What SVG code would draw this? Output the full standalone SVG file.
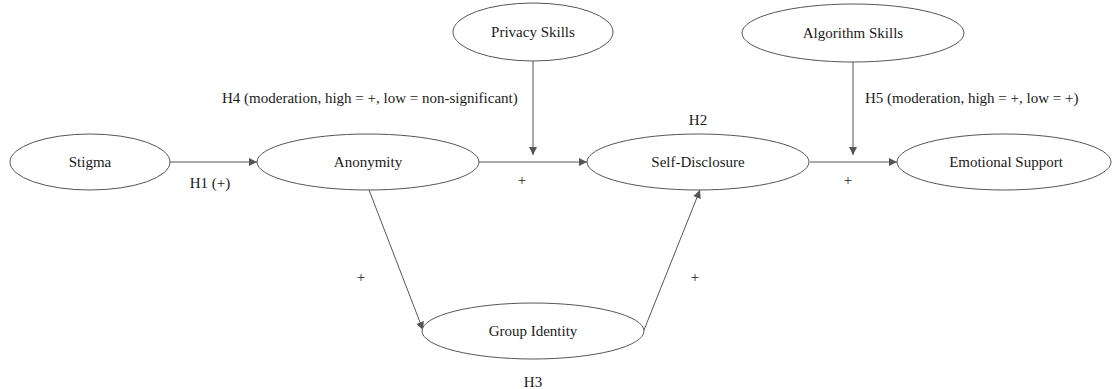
<svg xmlns="http://www.w3.org/2000/svg" width="1112" height="389" viewBox="0 0 1112 389">
<defs>
<style>
.node ellipse{fill:#ffffff;stroke:#555555;stroke-width:1}
text{font-family:'Liberation Serif','Times New Roman',Times,serif;font-size:15px;fill:#1a1a1a;text-anchor:middle}
.edge{stroke:#555555;stroke-width:1;fill:none;marker-end:url(#arr)}
</style>
<marker id="arr" viewBox="0 0 10 10" refX="10" refY="5" markerWidth="10" markerHeight="8" markerUnits="userSpaceOnUse" orient="auto">
<path d="M0,0 L10,5 L0,10 z" fill="#555555"/>
</marker>
</defs>
<rect width="1112" height="389" fill="#ffffff"/>
<g id="connectors" font-family="Liberation Serif, serif">
<line class="edge" x1="170" y1="162" x2="257" y2="162"/>
<line class="edge" x1="479" y1="162" x2="587" y2="162"/>
<line class="edge" x1="810" y1="162" x2="897" y2="162"/>
<line class="edge" x1="533" y1="61" x2="533" y2="155"/>
<line class="edge" x1="853" y1="62" x2="853" y2="155"/>
<line class="edge" x1="369" y1="190" x2="423" y2="330"/>
<line class="edge" x1="644" y1="330" x2="700" y2="190"/>
<text x="210" y="188">H1 (+)</text>
<text x="522" y="185">+</text>
<text x="848" y="185">+</text>
<text x="361" y="282">+</text>
<text x="695" y="282">+</text>
<text x="698" y="125">H2</text>
<text x="533" y="387">H3</text>
<text x="222" y="103" style="text-anchor:start">H4 (moderation, high = +, low = non-significant)</text>
<text x="865" y="103" style="text-anchor:start">H5 (moderation, high = +, low = +)</text>
</g>
<g id="stigma" class="node"><ellipse cx="90" cy="162" rx="80" ry="28"/><text x="90" y="167">Stigma</text></g>
<g id="anonymity" class="node"><ellipse cx="368" cy="162" rx="111" ry="28"/><text x="368" y="167">Anonymity</text></g>
<g id="privacy-skills" class="node"><ellipse cx="533" cy="32" rx="80" ry="29"/><text x="533" y="37">Privacy Skills</text></g>
<g id="algorithm-skills" class="node"><ellipse cx="853" cy="33" rx="111" ry="29"/><text x="853" y="38">Algorithm Skills</text></g>
<g id="self-disclosure" class="node"><ellipse cx="698" cy="162" rx="111" ry="28"/><text x="698" y="167">Self-Disclosure</text></g>
<g id="emotional-support" class="node"><ellipse cx="1004" cy="162" rx="107" ry="28"/><text x="1006" y="167">Emotional Support</text></g>
<g id="group-identity" class="node"><ellipse cx="533" cy="331" rx="111" ry="28"/><text x="533" y="336">Group Identity</text></g>
</svg>
